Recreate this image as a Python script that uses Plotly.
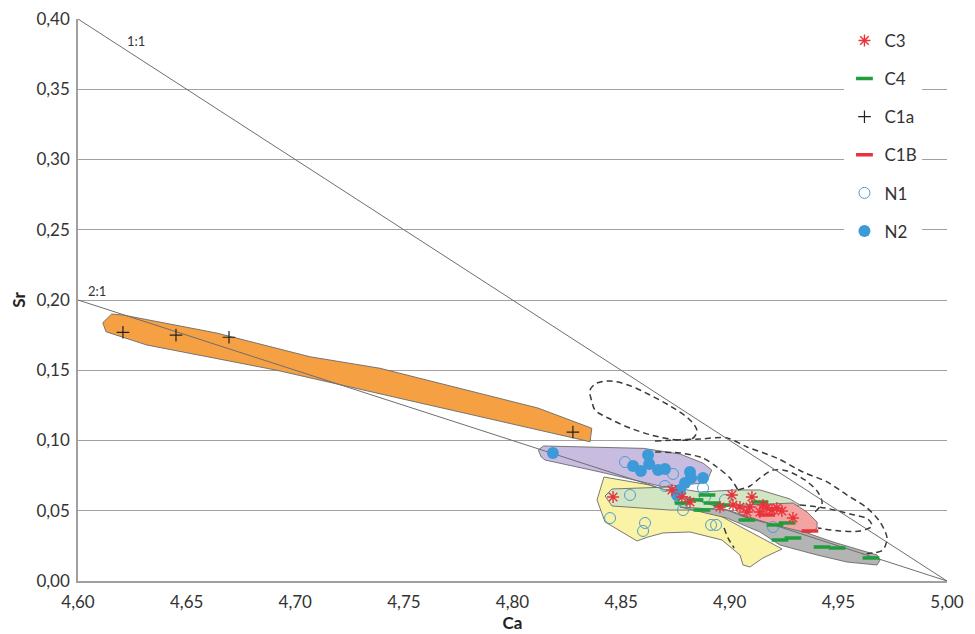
import plotly.graph_objects as go

# ---------------- data ----------------
# reference lines (Ca, Sr)
line_11_x = [4.60, 5.00]
line_11_y = [0.40, 0.00]
line_21_x = [4.60, 5.00]
line_21_y = [0.20, 0.00]

# point series
c3_x = [4.8463, 4.8734, 4.8780, 4.8817, 4.8955, 4.9010, 4.9015, 4.9047, 4.9102, 4.9093,
        4.9139, 4.9171, 4.9194, 4.9217, 4.9240, 4.9291, 4.9079, 4.9153]
c3_y = [0.0598, 0.0648, 0.0598, 0.0562, 0.0527, 0.0612, 0.0541, 0.0527, 0.0598, 0.0527,
        0.0491, 0.0520, 0.0505, 0.0520, 0.0498, 0.0448, 0.0491, 0.0541]

c4_x = [4.8785, 4.8872, 4.8895, 4.8918, 4.8964, 4.9079, 4.9139, 4.9208, 4.9264, 4.9231,
        4.9291, 4.9425, 4.9494, 4.9650, 4.8840]
c4_y = [0.0555, 0.0505, 0.0612, 0.0555, 0.0541, 0.0434, 0.0562, 0.0399, 0.0413, 0.0292,
        0.0306, 0.0242, 0.0235, 0.0164, 0.0577]

c1a_x = [4.6207, 4.6451, 4.6695, 4.8278]
c1a_y = [0.1770, 0.1750, 0.1735, 0.1060]

c1b_x = [4.9170, 4.9369]
c1b_y = [0.0470, 0.0356]

n1_x = [4.8518, 4.8541, 4.8449, 4.8610, 4.8601, 4.8739, 4.8702, 4.8771, 4.8785, 4.8877,
        4.8886, 4.8978, 4.8914, 4.8937, 4.9199]
n1_y = [0.0847, 0.0612, 0.0448, 0.0413, 0.0356, 0.0762, 0.0676, 0.0577, 0.0505, 0.0662,
        0.0598, 0.0577, 0.0399, 0.0399, 0.0384]

n2_x = [4.8186, 4.8555, 4.8591, 4.8624, 4.8629, 4.8670, 4.8702, 4.8817, 4.8822, 4.8877,
        4.8794, 4.8771, 4.8757]
n2_y = [0.0911, 0.0819, 0.0783, 0.0897, 0.0833, 0.0790, 0.0797, 0.0776, 0.0733, 0.0733,
        0.0698, 0.0648, 0.0612]

# filled fields
orange_x = [4.6155, 4.6207, 4.6638, 4.7068, 4.7390, 4.8117, 4.8365, 4.8357, 4.6915, 4.6316, 4.6129, 4.6114]
orange_y = [0.1900, 0.1893, 0.1765, 0.1596, 0.1514, 0.1231, 0.1087, 0.0991, 0.1500, 0.1680, 0.1774, 0.1838]

purple_x = [4.8119, 4.8142, 4.8602, 4.8771, 4.8878, 4.8917, 4.8901, 4.8863, 4.8693, 4.8403, 4.8150, 4.8132]
purple_y = [0.0932, 0.0961, 0.0944, 0.0904, 0.0838, 0.0790, 0.0731, 0.0695, 0.0671, 0.0776, 0.0861, 0.0883]

yellow_x = [4.8421, 4.8633, 4.8863, 4.9241, 4.9153, 4.9093, 4.9061, 4.9047, 4.8964, 4.8817,
            4.8693, 4.8624, 4.8573, 4.8426, 4.8389]
yellow_y = [0.0740, 0.0683, 0.0541, 0.0228, 0.0164, 0.0100, 0.0114, 0.0185, 0.0292, 0.0349,
            0.0342, 0.0313, 0.0285, 0.0420, 0.0577]

green_x = [4.8426, 4.8458, 4.8725, 4.8863, 4.9024, 4.9139, 4.9277, 4.9323, 4.9231, 4.9047, 4.8863, 4.8725, 4.8458]
green_y = [0.0605, 0.0655, 0.0669, 0.0633, 0.0648, 0.0648, 0.0584, 0.0541, 0.0520, 0.0541, 0.0505, 0.0505, 0.0534]

pink_x = [4.9070, 4.9291, 4.9356, 4.9402, 4.9402, 4.9369, 4.9231, 4.9047, 4.9024]
pink_y = [0.0541, 0.0555, 0.0491, 0.0420, 0.0377, 0.0342, 0.0377, 0.0470, 0.0520]

grey_x = [4.8771, 4.8987, 4.9079, 4.9356, 4.9475, 4.9600, 4.9678, 4.9692, 4.9678, 4.9540,
          4.9402, 4.9231, 4.9139, 4.8987, 4.8863]
grey_y = [0.0527, 0.0505, 0.0448, 0.0342, 0.0278, 0.0221, 0.0185, 0.0149, 0.0114, 0.0135,
          0.0185, 0.0256, 0.0349, 0.0448, 0.0491]

# dashed field outlines
dashA_x = [4.8366, 4.8357, 4.8389, 4.8449, 4.8532, 4.8633, 4.8734, 4.8817, 4.8849, 4.8826,
           4.8762, 4.8656, 4.8541, 4.8440, 4.8380, 4.8366]
dashA_y = [0.1274, 0.1359, 0.1409, 0.1423, 0.1395, 0.1324, 0.1238, 0.1146, 0.1068, 0.1011,
           0.1004, 0.1032, 0.1089, 0.1160, 0.1217, 0.1274]

dashB_x = [4.8656, 4.8863, 4.8987, 4.9079, 4.9217, 4.9337, 4.9448, 4.9540, 4.9632, 4.9692, 4.9724, 4.9705, 4.9659, 4.9609]
dashB_y = [0.0996, 0.1011, 0.1018, 0.0954, 0.0875, 0.0776, 0.0705, 0.0612, 0.0520, 0.0420, 0.0306, 0.0221, 0.0199, 0.0192]

dashC_x = [4.8610, 4.8771, 4.8877, 4.8941, 4.9001, 4.9038]
dashC_y = [0.0918, 0.0911, 0.0875, 0.0811, 0.0733, 0.0648]

dashD_x = [4.9038, 4.9093, 4.9139, 4.9199, 4.9264, 4.9346, 4.9406, 4.9425, 4.9392]
dashD_y = [0.0648, 0.0676, 0.0733, 0.0790, 0.0783, 0.0719, 0.0633, 0.0555, 0.0491]

dashE_x = [4.9323, 4.9438, 4.9554, 4.9636, 4.9655, 4.9600, 4.9508, 4.9406]
dashE_y = [0.0541, 0.0520, 0.0477, 0.0441, 0.0391, 0.0356, 0.0356, 0.0377]

dashF_x = [4.8974, 4.8992, 4.9020]
dashF_y = [0.0377, 0.0306, 0.0235]

y_ticks = [0.00, 0.05, 0.10, 0.15, 0.20, 0.25, 0.30, 0.35, 0.40]
y_ticklabels = ["0,00", "0,05", "0,10", "0,15", "0,20", "0,25", "0,30", "0,35", "0,40"]
x_ticks = [4.60, 4.65, 4.70, 4.75, 4.80, 4.85, 4.90, 4.95, 5.00]
x_ticklabels = ["4,60", "4,65", "4,70", "4,75", "4,80", "4,85", "4,90", "4,95", "5,00"]

# ---------------- figure ----------------
FONT = "Lato, 'Open Sans', sans-serif"
fig = go.Figure()

def field(xs, ys, fill):
    fig.add_trace(go.Scatter(x=xs + xs[:1], y=ys + ys[:1], mode="lines", fill="toself",
                             fillcolor=fill, line=dict(color="#6a6a6a", width=0.9),
                             showlegend=False, hoverinfo="skip"))

def dashed(xs, ys, smooth=0.8):
    fig.add_trace(go.Scatter(x=xs, y=ys, mode="lines",
                             line=dict(color="#3a3a3a", width=1.5, dash="6px,4px", shape="spline", smoothing=smooth),
                             showlegend=False, hoverinfo="skip"))

field(orange_x, orange_y, "#f6a044")
field(purple_x, purple_y, "#c8bde0")
field(yellow_x, yellow_y, "#faf3a6")
field(green_x, green_y, "#d2e6c4")
field(pink_x, pink_y, "#f4a3a3")
field(grey_x, grey_y, "#b4b4b4")

dashed(dashA_x, dashA_y, 1.0)
dashed(dashB_x, dashB_y)
dashed(dashC_x, dashC_y)
dashed(dashD_x, dashD_y)
dashed(dashE_x, dashE_y)
dashed(dashF_x, dashF_y)

for lx, ly in [(line_11_x, line_11_y), (line_21_x, line_21_y)]:
    fig.add_trace(go.Scatter(x=lx, y=ly, mode="lines", line=dict(color="#6e6e6e", width=1),
                             showlegend=False, hoverinfo="skip"))

RED = "#e8333a"
GREEN = "#1f9e3e"
BLUE = "#3d9ad8"
fig.add_trace(go.Scatter(x=c1a_x, y=c1a_y, mode="markers", name="C1a", legendrank=3, legendgroup="c1a",
                         marker=dict(symbol="cross-thin-open", size=9, color="#222222", line=dict(color="#222222", width=1.2))))
fig.add_trace(go.Scatter(x=n1_x, y=n1_y, mode="markers", name="N1", legendrank=5, legendgroup="n1",
                         marker=dict(symbol="circle-open", size=11, color="#4a9fd0", line=dict(color="#4a9fd0", width=1))))
fig.add_trace(go.Scatter(x=n2_x, y=n2_y, mode="markers", name="N2", legendrank=6, legendgroup="n2",
                         marker=dict(symbol="circle", size=12, color=BLUE, line=dict(width=0))))
fig.add_trace(go.Scatter(x=c4_x, y=c4_y, mode="markers", name="C4", legendrank=2, legendgroup="c4",
                         marker=dict(symbol="line-ew-open", size=12, color=GREEN, line=dict(color=GREEN, width=3.5))))
fig.add_trace(go.Scatter(x=c1b_x, y=c1b_y, mode="markers", name="C1B", legendrank=4, legendgroup="c1b",
                         marker=dict(symbol="line-ew-open", size=12, color=RED, line=dict(color=RED, width=3.5))))
fig.add_trace(go.Scatter(x=c3_x, y=c3_y, mode="markers", name="C3", legendrank=1, legendgroup="c3",
                         marker=dict(symbol="asterisk-open", size=10, color=RED, line=dict(color=RED, width=1.4))))

fig.add_annotation(x=4.6216, y=0.384, text="1:1", showarrow=False, xanchor="left", yanchor="middle",
                   font=dict(family=FONT, size=13, color="#333333"))
fig.add_annotation(x=4.6035, y=0.2065, text="2:1", showarrow=False, xanchor="left", yanchor="middle",
                   font=dict(family=FONT, size=13, color="#333333"))

fig.update_layout(
    width=975, height=634,
    margin=dict(l=78, r=28, t=19, b=53),
    paper_bgcolor="white", plot_bgcolor="white",
    font=dict(family=FONT, size=17, color="#333333"),
    showlegend=True,
    legend=dict(x=0.882, xanchor="left", y=0.993, yanchor="top", bgcolor="white",
                font=dict(family=FONT, size=17, color="#333333"), tracegroupgap=13,
                itemsizing="trace"),
    xaxis=dict(range=[4.60, 5.00], tickvals=x_ticks, ticktext=x_ticklabels, showgrid=False,
               zeroline=False, showline=True, linecolor="#a0a0a0", linewidth=1.5, ticks="",
               automargin=False, ticklabelstandoff=5,
               title=dict(text="<b>Ca</b>", font=dict(family=FONT, size=17, color="#222222"), standoff=1),
               tickfont=dict(family=FONT, size=17, color="#333333")),
    yaxis=dict(range=[0.00, 0.40], tickvals=y_ticks, ticktext=y_ticklabels, showgrid=True,
               gridcolor="#a99d9d", gridwidth=1.3, zeroline=False, showline=True, linecolor="#a0a0a0",
               linewidth=1.5, ticks="", automargin=False, ticklabelstandoff=3,
               title=dict(text="<b>Sr</b>", font=dict(family=FONT, size=17, color="#222222"), standoff=6),
               tickfont=dict(family=FONT, size=17, color="#333333")),
)

fig.write_html("out.html")
